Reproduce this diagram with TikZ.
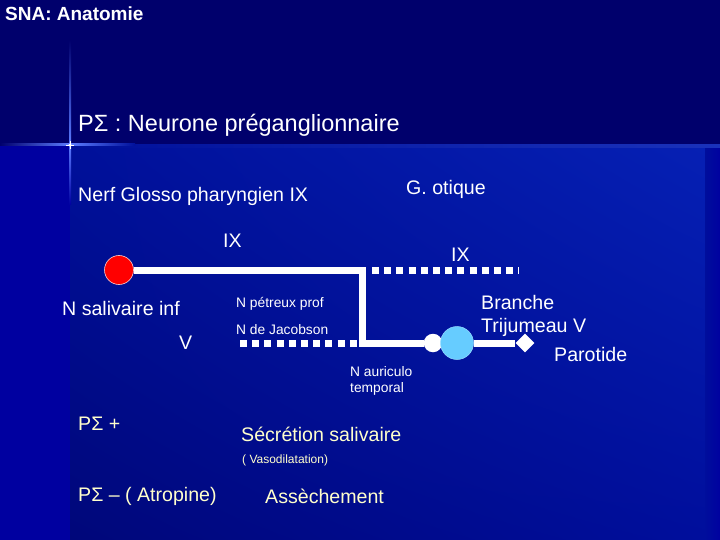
\documentclass[tikz,border=0pt]{standalone}
\usepackage{fontspec}
\setmainfont{Liberation Sans}
\usetikzlibrary{shapes.geometric,shadings}
\definecolor{bgtop}{HTML}{00006C}
\definecolor{bgleft}{HTML}{0000A0}
\definecolor{bgul}{HTML}{00109A}
\definecolor{bgur}{HTML}{0620B4}
\definecolor{bgll}{HTML}{00077A}
\definecolor{bglr}{HTML}{000E9C}
\definecolor{txtyel}{HTML}{FFFFCC}
\definecolor{lblue}{HTML}{66CCFF}
\definecolor{flare}{HTML}{5C7CFF}
\tikzset{
  lbl/.style={anchor=west, inner sep=0pt, text=white},
  big/.style={font=\fontsize{23.5}{26}\selectfont},
  mid/.style={font=\fontsize{19.6}{22}\selectfont},
  sml/.style={font=\fontsize{13.8}{17}\selectfont},
  tiny/.style={font=\fontsize{12}{14}\selectfont},
  yel/.style={text=txtyel},
  wline/.style={draw=white, line width=7pt},
  dline/.style={draw=white, line width=7pt, dash pattern=on 7pt off 5.2pt},
  redc/.style={circle, fill=red, draw=white!80!red, line width=0.6pt, minimum size=29pt, inner sep=0pt},
  whc/.style={circle, fill=white, minimum size=18.5pt, inner sep=0pt},
  bluc/.style={circle, fill=lblue, draw=lblue!70!white, line width=0.5pt, minimum size=33pt, inner sep=0pt},
  diam/.style={diamond, fill=white, minimum width=19pt, minimum height=19pt, inner sep=0pt}
}
\begin{document}
\begin{tikzpicture}[x=1pt,y=-1pt]
% background
\useasboundingbox (0,0) rectangle (720,540);
\fill[bgleft] (0,145) rectangle (720,540);
\shade[upper left=bgul, upper right=bgur, lower left=bgll, lower right=bglr] (70,145) rectangle (705,540);
\shade[left color=bglr, right color=bgleft!90!bglr] (705,145) rectangle (720,540);
\fill[bgtop] (0,0) rectangle (720,145);
\shade[left color=bgul, right color=bgur!92!white] (70,145) rectangle (720,148);
% flare
\shade[top color=bgtop, bottom color=flare] (69,40) rectangle (71,145);
\shade[top color=flare, bottom color=bgleft] (69,145) rectangle (71,205);
\shade[left color=bgtop, right color=flare] (0,144) rectangle (70,146);
\shade[left color=flare, right color=bgul] (70,144) rectangle (135,146);
\fill[white] (70,145) circle (1.6);
\draw[white, line width=0.8pt] (66,145) -- (74,145) (70,141) -- (70,149);
% texts
\node[lbl, font=\fontsize{19}{22}\bfseries\selectfont] (title) at (5,14) {SNA: Anatomie};
\node[lbl, big] (pre) at (78,125) {PΣ : Neurone préganglionnaire};
\node[lbl, mid] (glosso) at (78,196) {Nerf Glosso pharyngien IX};
\node[lbl, mid] (otique) at (406,189) {G. otique};
\node[lbl, mid] (ix1) at (223,241) {IX};
\node[lbl, mid] (ix2) at (451,255) {IX};
\node[lbl, mid] (nsalt) at (62,308) {N salivaire inf};
\node[lbl, mid] (v) at (179,343) {V};
\node[lbl, sml] (petr) at (236,304) {N pétreux prof};
\node[lbl, sml] (jac) at (236,330) {N de Jacobson};
\node[lbl, mid] (branche) at (481,302) {Branche};
\node[lbl, mid] (trij) at (481,327) {Trijumeau V};
\node[lbl, mid] (paro) at (554,354) {Parotide};
\node[lbl, sml] (auric) at (350,372) {N auriculo};
\node[lbl, sml] (temp) at (350,389) {temporal};
\node[lbl, mid, yel] (psp) at (78,424) {PΣ +};
\node[lbl, mid, yel] (secr) at (241,434) {Sécrétion salivaire};
\node[lbl, tiny, yel] (vaso) at (242,460) {( Vasodilatation)};
\node[lbl, mid, yel] (psm) at (78,496) {PΣ – ( Atropine)};
\node[lbl, mid, yel] (assech) at (265,496) {Assèchement};
% diagram
\coordinate (j1) at (362,270);
\coordinate (j2) at (362,343);
\coordinate (ixstart) at (372,270);
\coordinate (ixend) at (519,270);
\coordinate (vstart) at (240,343);
\coordinate (vend) at (358.5,343);
\node[redc] (nsal) at (119,270) {};
\node[whc] (wc) at (433,343) {};
\node[bluc] (bc) at (457,343) {};
\node[diam] (dia) at (525,343) {};
\draw[wline] (nsal.east) -- (j1) -- (j2) -- (wc.west);
\draw[wline] (bc.east) -- (dia.west);
\draw[dline] (ixstart) -- (ixend);
\draw[dline] (vstart) -- (vend);
\draw[wline] (j1) -- ++(3.5,0);
\end{tikzpicture}
\end{document}
